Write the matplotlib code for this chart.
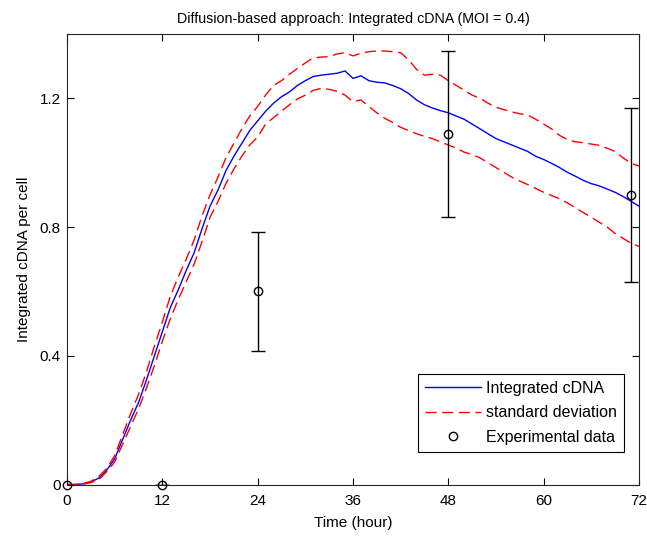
import numpy as np
import matplotlib
matplotlib.use('Agg')
import matplotlib.pyplot as plt

# model output, one value per hour (0..72)
hours = list(range(0, 73))
mean_cdna = [
    0, 0, 0.002, 0.008, 0.02, 0.045, 0.08, 0.14, 0.20, 0.255,
    0.325, 0.40, 0.475, 0.55, 0.605, 0.665, 0.72, 0.795, 0.865, 0.915,
    0.975, 1.02, 1.06, 1.10, 1.13, 1.16, 1.185, 1.205, 1.22, 1.24,
    1.255, 1.268, 1.272, 1.275, 1.278, 1.285, 1.262, 1.27, 1.255, 1.25,
    1.248, 1.24, 1.23, 1.215, 1.195, 1.18, 1.17, 1.162, 1.155, 1.145,
    1.135, 1.12, 1.105, 1.09, 1.075, 1.065, 1.055, 1.045, 1.035, 1.02,
    1.01, 0.998, 0.985, 0.97, 0.958, 0.945, 0.935, 0.928, 0.918, 0.908,
    0.895, 0.88, 0.865,
]
upper_sd = [
    0, 0, 0.003, 0.01, 0.025, 0.05, 0.09, 0.155, 0.22, 0.28,
    0.35, 0.43, 0.505, 0.585, 0.645, 0.70, 0.76, 0.835, 0.90, 0.955,
    1.015, 1.06, 1.105, 1.145, 1.175, 1.21, 1.24, 1.255, 1.275, 1.293,
    1.31, 1.326, 1.328, 1.33, 1.338, 1.342, 1.332, 1.34, 1.345, 1.347,
    1.347, 1.345, 1.342, 1.32, 1.29, 1.272, 1.275, 1.272, 1.255, 1.24,
    1.225, 1.21, 1.20, 1.185, 1.172, 1.165, 1.158, 1.152, 1.148, 1.135,
    1.12, 1.105, 1.085, 1.072, 1.065, 1.062, 1.058, 1.054, 1.045, 1.035,
    1.015, 0.998, 0.99,
]
lower_sd = [
    0, 0, 0.001, 0.006, 0.015, 0.04, 0.07, 0.125, 0.18, 0.235,
    0.30, 0.37, 0.445, 0.515, 0.575, 0.63, 0.685, 0.755, 0.83, 0.88,
    0.935, 0.98, 1.02, 1.055, 1.08, 1.12, 1.14, 1.16, 1.18, 1.198,
    1.21, 1.225, 1.231, 1.228, 1.222, 1.21, 1.19, 1.195, 1.175, 1.155,
    1.138, 1.125, 1.11, 1.10, 1.09, 1.082, 1.075, 1.065, 1.055, 1.045,
    1.033, 1.025, 1.015, 1.0, 0.985, 0.97, 0.955, 0.943, 0.932, 0.92,
    0.908, 0.898, 0.888, 0.875, 0.86, 0.845, 0.83, 0.815, 0.80, 0.78,
    0.765, 0.75, 0.74,
]

# experimental measurements
exp_time = [0, 12, 24, 48, 71]
exp_value = [0, 0, 0.60, 1.09, 0.90]
exp_err = [0, 0, 0.186, 0.258, 0.27]

plt.rcParams['font.family'] = ['Liberation Sans', 'DejaVu Sans']
plt.rcParams['font.size'] = 11

fig = plt.figure(figsize=(6.47, 5.36), dpi=100)
ax = fig.add_axes([0.1036, 0.096, 0.884, 0.8406])

ax.plot(hours, mean_cdna, color='#0000ff', lw=1.0, label='Integrated cDNA')
ax.plot(hours, upper_sd, color='#ff0000', lw=1.0, dashes=(8, 4), label='standard deviation')
ax.plot(hours, lower_sd, color='#ff0000', lw=1.0, dashes=(8, 4))
ax.errorbar(exp_time, exp_value, yerr=exp_err, fmt='none', ecolor='black',
            elinewidth=1.0, capsize=5, capthick=1.0)
ax.plot(exp_time, exp_value, 'o', color='black', mfc='none', ms=6, mew=1.0,
        label='Experimental data', clip_on=False, zorder=5)

ax.set_xlim(0, 72)
ax.set_ylim(0, 1.4)
ax.set_xticks([0, 12, 24, 36, 48, 60, 72])
ax.set_yticks([0, 0.4, 0.8, 1.2])
ax.set_yticklabels(['0', '0.4', '0.8', '1.2'])
ax.tick_params(direction='in', top=True, right=True, length=5, width=0.8, labelsize=11)
ax.tick_params(axis='x', pad=6.5)
ax.tick_params(axis='y', pad=4.5)
for s in ax.spines.values():
    s.set_color('#262626')
    s.set_linewidth(0.8)

ax.set_title('Diffusion-based approach: Integrated cDNA (MOI = 0.4)', fontsize=10.3, pad=8)
ax.set_xlabel('Time (hour)', fontsize=11, labelpad=6)
ax.set_ylabel('Integrated cDNA per cell', fontsize=11, labelpad=6)

leg = ax.legend(loc='lower right', bbox_to_anchor=(0.974, 0.072), borderaxespad=0,
                fancybox=False, edgecolor='black', framealpha=1, fontsize=11.5,
                handlelength=3.5, handletextpad=0.3, labelspacing=0.6, borderpad=0.45)
leg.get_frame().set_linewidth(0.8)

plt.savefig('out.png', dpi=100)
plt.close()
